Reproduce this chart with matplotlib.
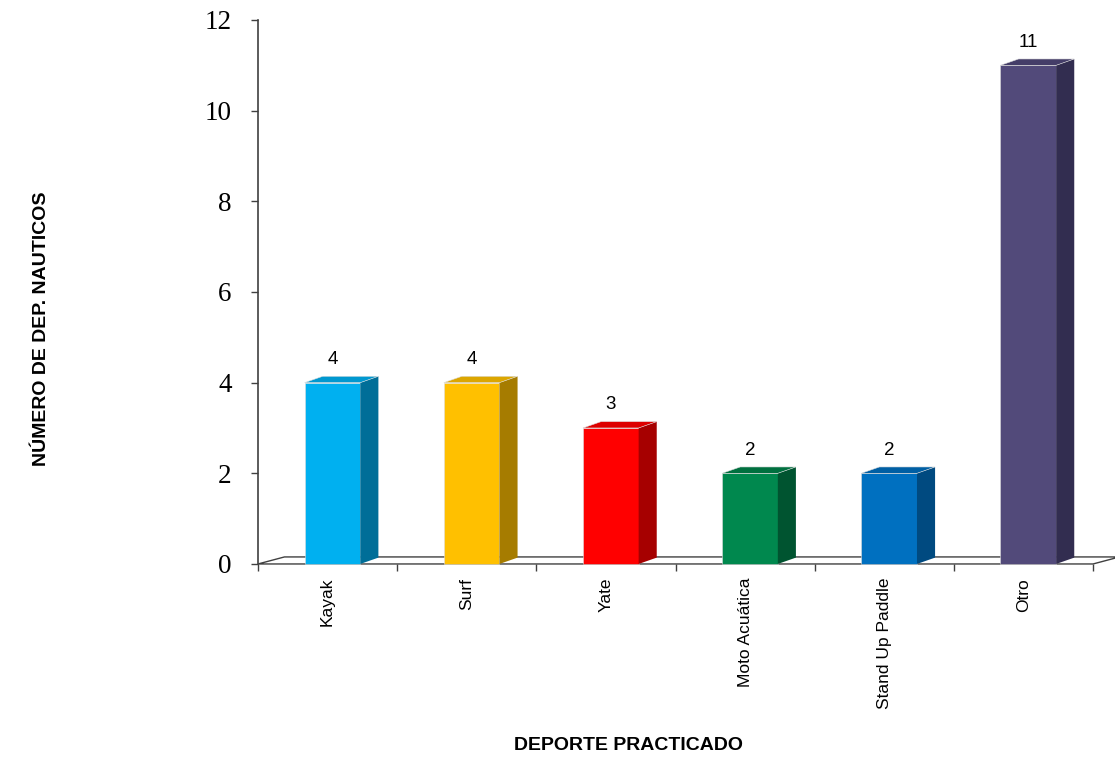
import matplotlib.pyplot as plt
from matplotlib.patches import Polygon
import numpy as np

# datos
categorias = ['Kayak', 'Surf', 'Yate', 'Moto Acuática', 'Stand Up Paddle', 'Otro']
valores = [4, 4, 3, 2, 2, 11]
y_ticks = [0, 2, 4, 6, 8, 10, 12]

# colores: frente, lado, tapa
col_frente = ['#00B0F0', '#FFC000', '#FF0000', '#00884E', '#0070C0', '#524A7A']
col_lado = ['#006E98', '#A67C00', '#A60000', '#005430', '#004A80', '#322D50']
col_tapa = ['#0098D0', '#DCA600', '#DD0000', '#00703F', '#005FA4', '#443D68']

fig = plt.figure(figsize=(11.15, 7.57), dpi=100)
ax = fig.add_axes([0.2314, 0.2550, 0.7489, 0.7186])
ax.set_xlim(-0.5, 5.5)
ax.set_ylim(0, 12)

ancho = 0.4   # ancho de la cara frontal
dx = 0.13     # profundidad en x
dy = 0.14     # profundidad en y
desp = 0.035  # corrimiento de las barras

# piso
fx, fy = 0.19, 0.155
piso = Polygon([(-0.5, 0), (5.5, 0), (5.5 + fx, fy), (-0.5 + fx, fy)], closed=True,
               facecolor='white', edgecolor='#404040', lw=1.0, clip_on=False, zorder=1)
ax.add_patch(piso)

x = np.arange(len(categorias)) + desp
ax.bar(x, valores, width=ancho, color=col_frente, edgecolor='#dddddd', linewidth=0.4,
       zorder=3, clip_on=False)

for i, v in enumerate(valores):
    x0 = x[i] - ancho / 2
    x1 = x[i] + ancho / 2
    lado = Polygon([(x1, 0), (x1 + dx, dy), (x1 + dx, v + dy), (x1, v)], closed=True,
                   facecolor=col_lado[i], edgecolor='none', zorder=3, clip_on=False)
    tapa = Polygon([(x0, v), (x1, v), (x1 + dx, v + dy), (x0 + dx, v + dy)], closed=True,
                   facecolor=col_tapa[i], edgecolor='#dddddd', lw=0.4, zorder=3, clip_on=False)
    ax.add_patch(lado)
    ax.add_patch(tapa)
    ax.annotate(str(v), (x[i], v + dy), xytext=(0, 6), textcoords='offset points',
                ha='center', va='bottom', fontsize=13.5, family='Liberation Sans')

# ejes
for s in ['top', 'right', 'bottom']:
    ax.spines[s].set_visible(False)
ax.spines['left'].set_color('#404040')
ax.spines['left'].set_linewidth(1.2)

ax.set_yticks(y_ticks)
ax.set_yticklabels([str(t) for t in y_ticks], family='Liberation Serif', fontsize=19.5)
ax.tick_params(axis='y', length=5, width=1, pad=14, color='#404040')

ax.set_xticks(np.arange(len(categorias)))
ax.set_xticklabels(categorias, rotation=90, fontsize=12.5, family='Liberation Sans')
ax.tick_params(axis='x', which='major', length=0, pad=10)
ax.set_xticks(np.arange(-0.5, 6, 1), minor=True)
ax.tick_params(axis='x', which='minor', length=5, width=1, color='#404040')

fig.text(629 / 1115, 1 - 745 / 757, 'DEPORTE PRACTICADO', ha='center', va='center',
         fontsize=14, fontweight='bold', family='Liberation Sans')
fig.text(42 / 1115, 1 - 329 / 757, 'NÚMERO DE DEP. NAUTICOS', ha='center', va='center',
         rotation=90, fontsize=14, fontweight='bold', family='Liberation Sans')

fig.savefig('out.png', dpi=100)
